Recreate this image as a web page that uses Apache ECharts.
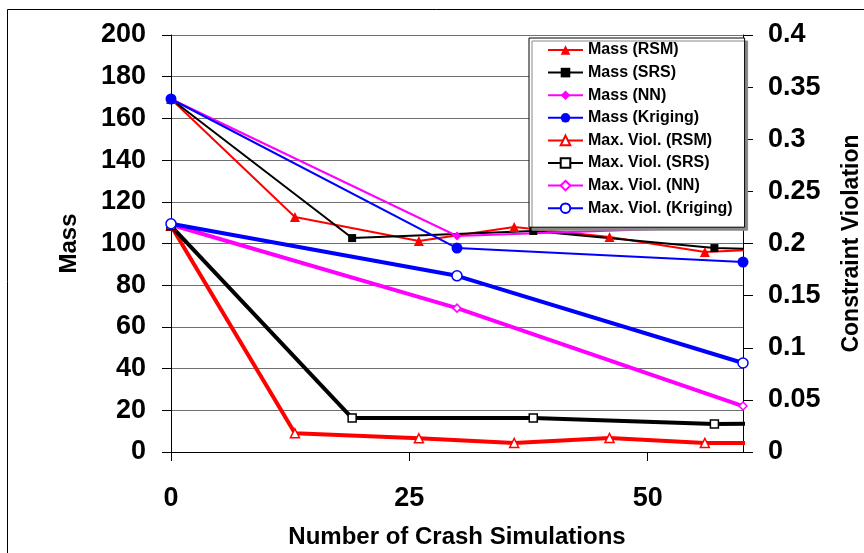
<!DOCTYPE html>
<html>
<head>
<meta charset="utf-8">
<script src="https://cdn.jsdelivr.net/npm/echarts@6/dist/echarts.min.js"></script>
<style>
  html, body { margin: 0; padding: 0; background: #fff; }
  #chart { width: 864px; height: 553px; }
</style>
</head>
<body>
<div id="chart"></div>
<script>
// values
var xRSM = [0, 13, 26, 36, 46, 56, 61];
var xSRS = [0, 19, 38, 57, 61];
var xNN = [0, 30, 60];
var xKrig = [0, 30, 60];

var massRSM = [169.3, 112.7, 101.2, 107.9, 103.1, 95.9, 97.0];
var massSRS = [169.3, 102.6, 106.0, 97.8, 97.4];
var massNN = [169.3, 103.6, 108.4];
var massKrig = [169.3, 97.8, 91.1];

var violRSM = [0.217, 0.018, 0.0132, 0.0086, 0.0134, 0.0086, 0.0086];
var violSRS = [0.217, 0.0326, 0.0326, 0.0269, 0.027];
var violNN = [0.218, 0.138, 0.0441];
var violKrig = [0.219, 0.169, 0.0854];

var xTicks = [0, 25, 50];

var FONT = 'Liberation Sans, Arial, sans-serif';

// last point of RSM / SRS sits just past the right axis, no marker
function pts(xs, ys, hideLast) {
    return xs.map(function (x, i) {
        var item = { value: [x, ys[i]] };
        if (hideLast && i === xs.length - 1) item.symbol = 'none';
        return item;
    });
}

function mk(name, xs, ys, hideLast, axis, color, width, symbol, size, hollow) {
    return {
        name: name,
        type: 'line',
        yAxisIndex: axis,
        data: pts(xs, ys, hideLast),
        symbol: symbol,
        symbolSize: size,
        clip: false,
        lineStyle: { color: color, width: width },
        itemStyle: hollow
            ? { color: '#fff', borderColor: color, borderWidth: 1.5 }
            : { color: color, borderColor: color, borderWidth: 0 },
        emphasis: { disabled: true },
        animation: false
    };
}

var myChart = echarts.init(document.getElementById('chart'));
myChart.setOption({
    animation: false,
    backgroundColor: '#fff',
    grid: { left: 171, right: 121, top: 35, bottom: 101, outerBoundsMode: 'none', containLabel: false },
    graphic: [{
        type: 'rect',
        shape: { x: 7.5, y: 9.5, width: 900, height: 600 },
        style: { fill: 'none', stroke: '#000', lineWidth: 1 },
        z: -10
    }],
    legend: {
        orient: 'vertical',
        left: 529,
        top: 38,
        padding: [4, 12, 11, 18],
        itemWidth: 35,
        itemHeight: 12,
        itemGap: 6.6,
        backgroundColor: '#fff',
        borderColor: '#000',
        borderWidth: 1,
        shadowColor: '#888',
        shadowOffsetX: 3,
        shadowOffsetY: 3,
        shadowBlur: 0,
        textStyle: { fontFamily: FONT, fontWeight: 'bold', fontSize: 16, lineHeight: 16, color: '#000' }
    },
    xAxis: {
        type: 'value',
        min: 0,
        max: 60,
        interval: 25,
        name: 'Number of Crash Simulations',
        nameLocation: 'middle',
        nameGap: 73,
        nameTextStyle: { fontFamily: FONT, fontWeight: 'bold', fontSize: 24, color: '#000' },
        axisLine: { lineStyle: { color: '#000', width: 1 } },
        axisTick: { length: 9, lineStyle: { color: '#000' } },
        axisLabel: {
            margin: 33, fontFamily: FONT, fontWeight: 'bold', fontSize: 27, color: '#000',
            showMaxLabel: false,
            formatter: function (v) { return xTicks.indexOf(v) >= 0 ? String(v) : ''; }
        },
        splitLine: { show: false }
    },
    yAxis: [{
        type: 'value',
        min: 0,
        max: 200,
        interval: 20,
        name: 'Mass',
        nameLocation: 'middle',
        nameRotate: 90,
        nameGap: 90,
        nameTextStyle: { fontFamily: FONT, fontWeight: 'bold', fontSize: 24, color: '#000' },
        axisLine: { show: true, lineStyle: { color: '#000', width: 1 } },
        axisTick: { show: true, length: 9, lineStyle: { color: '#000' } },
        axisLabel: { margin: 25, fontFamily: FONT, fontWeight: 'bold', fontSize: 27, color: '#000' },
        splitLine: { show: true, lineStyle: { color: '#707070', width: 1 } }
    }, {
        type: 'value',
        position: 'right',
        min: 0,
        max: 0.4,
        interval: 0.05,
        name: 'Constraint Violation',
        nameLocation: 'middle',
        nameRotate: 90,
        nameGap: 97,
        nameTextStyle: { fontFamily: FONT, fontWeight: 'bold', fontSize: 23, color: '#000' },
        axisLine: { show: true, lineStyle: { color: '#000', width: 1 } },
        axisTick: { show: true, length: 10, lineStyle: { color: '#000' } },
        axisLabel: { margin: 25, fontFamily: FONT, fontWeight: 'bold', fontSize: 27, color: '#000' },
        splitLine: { show: false }
    }],
    series: [
        mk('Mass (RSM)', xRSM, massRSM, true, 0, '#ff0000', 2, 'triangle', 10, false),
        mk('Mass (SRS)', xSRS, massSRS, true, 0, '#000000', 2, 'rect', 8, false),
        mk('Mass (NN)', xNN, massNN, false, 0, '#ff00ff', 2, 'diamond', 9, false),
        mk('Mass (Kriging)', xKrig, massKrig, false, 0, '#0000ff', 2, 'circle', 11, false),
        mk('Max. Viol. (RSM)', xRSM, violRSM, true, 1, '#ff0000', 4, 'triangle', 9, true),
        mk('Max. Viol. (SRS)', xSRS, violSRS, true, 1, '#000000', 4, 'rect', 8, true),
        mk('Max. Viol. (NN)', xNN, violNN, false, 1, '#ff00ff', 4, 'diamond', 8, true),
        mk('Max. Viol. (Kriging)', xKrig, violKrig, false, 1, '#0000ff', 4, 'circle', 10, true)
    ]
});
</script>
</body>
</html>
